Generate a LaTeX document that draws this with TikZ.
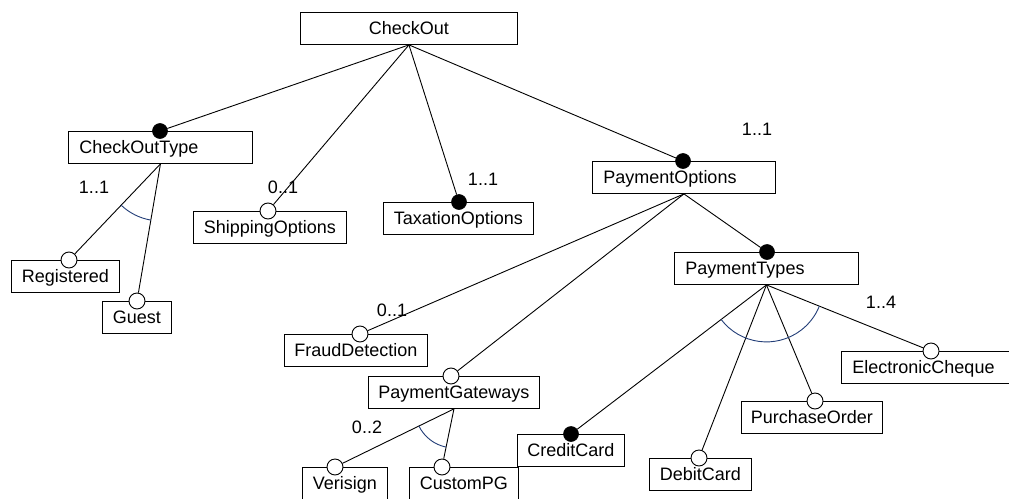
\documentclass[tikz,border=0pt]{standalone}
\usepackage{fontspec}
\setmainfont{Liberation Sans}
\usetikzlibrary{angles}
\definecolor{arcblue}{HTML}{233E78}
\begin{document}
\begin{tikzpicture}[x=1pt,y=-1pt,
  font=\fontsize{18}{21}\selectfont,
  feat/.style={draw=black, line width=0.9pt, rectangle, fill=white,
    minimum height=32pt, inner ysep=0pt, inner xsep=0pt,
    text height=16pt, text depth=3.1pt, anchor=north west},
  featl/.style={feat, align=left, text width=#1, inner xsep=11pt},
  filledc/.style={circle, fill=black, draw=black, line width=0.6pt,
    minimum size=15pt, inner sep=0pt},
  openc/.style={circle, fill=white, draw=black, line width=0.9pt,
    minimum size=16pt, inner sep=0pt},
  card/.style={inner sep=0pt, text height=12.9pt, text depth=0pt},
  link/.style={draw=black, line width=0.9pt},
  grouparc/.style={draw=arcblue, line width=0.9pt}]

\useasboundingbox (0,0) rectangle (1009,498);
\fill[white] (0,0) rectangle (1009,498);
\clip (0,0) rectangle (1009,498);

% feature boxes
\node[feat, minimum width=217pt] (checkout) at (300,12) {CheckOut};
\node[featl=162pt] (cotype) at (68,131) {CheckOutType};
\node[feat, minimum width=153pt] (shipping) at (193,211) {ShippingOptions};
\node[feat, minimum width=150pt] (taxation) at (383,202) {TaxationOptions};
\node[featl=161pt] (payopt) at (592,161) {PaymentOptions};
\node[featl=162pt] (paytypes) at (674,252) {PaymentTypes};
\node[feat, minimum width=108pt] (registered) at (11,260) {Registered};
\node[feat, minimum width=69pt] (guest) at (102,301) {Guest};
\node[feat, minimum width=143pt] (fraud) at (284,334) {FraudDetection};
\node[feat, minimum width=171pt] (paygw) at (368,376) {PaymentGateways};
\node[feat, minimum width=85pt] (verisign) at (302,467) {Verisign};
\node[feat, minimum width=109pt] (custompg) at (409,467) {CustomPG};
\node[feat, minimum width=107pt] (credit) at (517,434) {CreditCard};
\node[feat, minimum width=102pt] (debit) at (649,458) {DebitCard};
\node[feat, minimum width=141pt] (purchase) at (741,401) {PurchaseOrder};
\node[featl=168pt] (echeque) at (841,351) {ElectronicCheque};

% branching points under the group parents
\coordinate (cotypeS) at (cotype.south);
\coordinate (paygwS) at (paygw.south);
\coordinate (paytypesS) at (paytypes.south);

% mandatory (filled) and optional (open) markers
\node[filledc] (ccotype) at (160,131) {};
\node[openc] (cship) at (268,211) {};
\node[filledc] (ctax) at (459,202) {};
\node[filledc] (cpayopt) at (683,161) {};
\node[filledc] (cpaytypes) at (767,252) {};
\node[openc] (creg) at (69,260) {};
\node[openc] (cguest) at (137,301) {};
\node[openc] (cfraud) at (360,334) {};
\node[openc] (cpaygw) at (451,376) {};
\node[openc] (cveri) at (335,467) {};
\node[openc] (ccust) at (442,467) {};
\node[filledc] (ccredit) at (571,434) {};
\node[openc] (cdebit) at (699,458) {};
\node[openc] (cpurch) at (815,401) {};
\node[openc] (ceche) at (931,351) {};

% parent-child links
\draw[link] (checkout.south) -- (ccotype);
\draw[link] (checkout.south) -- (cship);
\draw[link] (checkout.south) -- (ctax);
\draw[link] (checkout.south) -- (cpayopt);
\draw[link] (cotypeS) -- (creg);
\draw[link] (cotypeS) -- (cguest);
\draw[link] (payopt.south) -- (cfraud);
\draw[link] (payopt.south) -- (cpaygw);
\draw[link] (payopt.south) -- (cpaytypes);
\draw[link] (paygwS) -- (cveri);
\draw[link] (paygwS) -- (ccust);
\draw[link] (paytypesS) -- (ccredit);
\draw[link] (paytypesS) -- (cdebit);
\draw[link] (paytypesS) -- (cpurch);
\draw[link] (paytypesS) -- (ceche);

% group arcs
\pic[grouparc, angle radius=57pt] {angle=creg--cotypeS--cguest};
\pic[grouparc, angle radius=39pt] {angle=cveri--paygwS--ccust};
\pic[grouparc, angle radius=57pt] {angle=ccredit--paytypesS--ceche};

% cardinalities
\node[card] (k1) at (94,187) {1..1};
\node[card] (k2) at (283,187) {0..1};
\node[card] (k3) at (483,179) {1..1};
\node[card] (k4) at (757,129) {1..1};
\node[card] (k5) at (392,310) {0..1};
\node[card] (k6) at (367,427) {0..2};
\node[card] (k7) at (881,302) {1..4};
\end{tikzpicture}
\end{document}
